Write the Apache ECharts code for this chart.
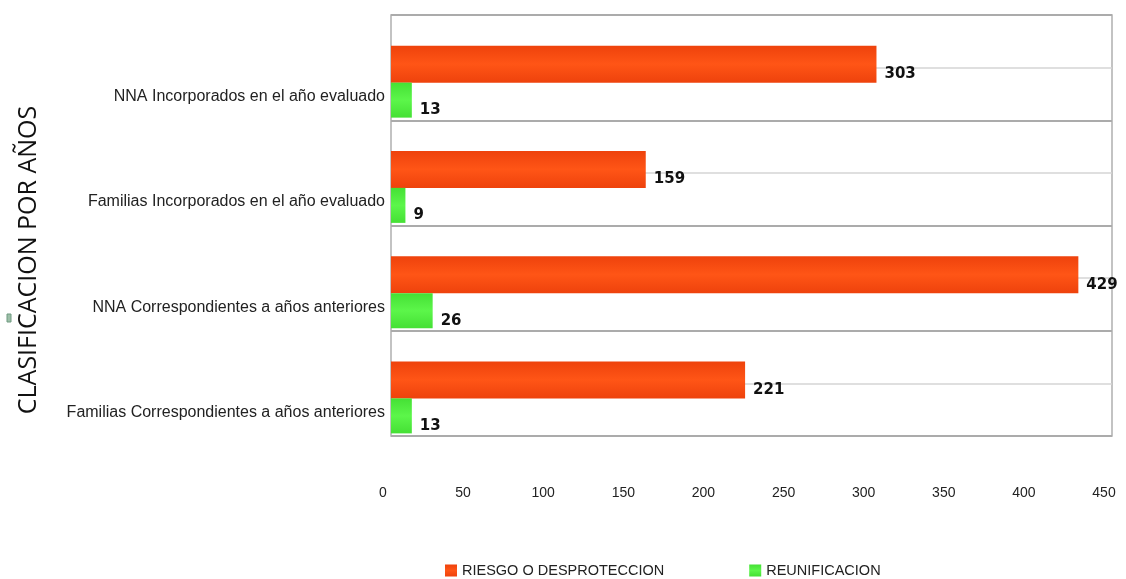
<!DOCTYPE html>
<html>
<head>
<meta charset="utf-8">
<script src="https://cdn.jsdelivr.net/npm/echarts@6/dist/echarts.min.js"></script>
<style>
  html, body { margin: 0; padding: 0; background: #fff; }
  #chart { width: 1126px; height: 579px; }
</style>
</head>
<body>
<div id="chart"></div>
<script>
var categories = [
  "NNA Incorporados en el año evaluado",
  "Familias Incorporados en el año evaluado",
  "NNA Correspondientes a años anteriores",
  "Familias Correspondientes a años anteriores"
];
var riesgo = [303, 159, 429, 221];
var reunificacion = [13, 9, 26, 13];
var xTicks = { min: 0, max: 450, interval: 50 };

var myChart = echarts.init(document.getElementById("chart"));

function barGrad(c1, c2) {
  return new echarts.graphic.LinearGradient(0, 0, 0, 1, [
    { offset: 0, color: c1 },
    { offset: 0.5, color: c2 },
    { offset: 1, color: c1 }
  ]);
}

var labelStyle = {
  show: true,
  position: "right",
  offset: [3, 10],
  color: "#111",
  fontFamily: "DejaVu Sans",
  fontWeight: "bold",
  fontSize: 15
};

var hiddenValueAxis = function (grid) {
  return {
    gridIndex: grid, type: "value",
    min: xTicks.min, max: xTicks.max, interval: xTicks.interval,
    axisLine: { show: false }, axisTick: { show: false },
    axisLabel: { show: false }, splitLine: { show: false }
  };
};

myChart.setOption({
  animation: false,
  grid: [
    // bars
    { left: 391, right: 14, top: 29, bottom: 129 },
    // back wall + gridlines
    {
      left: 391, right: 14, top: 15, bottom: 143,
      show: true, borderColor: "#b0b0b0", borderWidth: 1.5, backgroundColor: "transparent"
    },
    // category labels (sit a bit lower than the bars)
    { left: 391, right: 14, top: 44, bottom: 114 }
  ],
  legend: {
    top: 558,
    left: 440,
    icon: "rect",
    itemWidth: 12,
    itemHeight: 12,
    itemGap: 85,
    textStyle: { color: "#222", fontSize: 14.5, fontFamily: "Liberation Sans" },
    data: ["RIESGO O DESPROTECCION", "REUNIFICACION"]
  },
  graphic: [
    {
      type: "text",
      x: 29,
      y: 260,
      rotation: Math.PI / 2,
      style: {
        text: "CLASIFICACION POR AÑOS",
        fill: "#111",
        font: "25px 'Open Sans'",
        textAlign: "center",
        textVerticalAlign: "middle"
      }
    },
    {
      type: "rect",
      shape: { x: 7, y: 314, width: 4, height: 8 },
      style: { fill: "#9dbfa8", stroke: "#6f9a80" }
    }
  ],
  xAxis: [
    hiddenValueAxis(0),
    {
      gridIndex: 1, type: "value",
      min: xTicks.min, max: xTicks.max, interval: xTicks.interval,
      axisLine: { show: false }, axisTick: { show: false },
      splitLine: { show: false },
      axisLabel: {
        margin: 50, color: "#222", fontSize: 14, fontFamily: "Liberation Sans",
        padding: [0, 16, 0, 0]
      }
    },
    hiddenValueAxis(2)
  ],
  yAxis: [
    {
      gridIndex: 0, type: "category", inverse: true, data: categories,
      axisLine: { show: false }, axisTick: { show: false },
      axisLabel: { show: false }, splitLine: { show: false }
    },
    {
      gridIndex: 1, type: "value", min: 0, max: 8, interval: 1,
      axisLine: { show: false }, axisTick: { show: false }, axisLabel: { show: false },
      splitLine: { lineStyle: { color: "#d4d4d4", width: 1.5 } }
    },
    {
      gridIndex: 1, type: "value", min: 0, max: 4, interval: 1, position: "right",
      axisLine: { show: false }, axisTick: { show: false }, axisLabel: { show: false },
      splitLine: { lineStyle: { color: "#ababab", width: 2 } }
    },
    {
      gridIndex: 2, type: "category", inverse: true, data: categories,
      axisLine: { show: false }, axisTick: { show: false },
      splitLine: { show: false },
      axisLabel: { margin: 6, color: "#222", fontSize: 16, fontFamily: "Liberation Sans" }
    }
  ],
  series: [
    {
      name: "RIESGO O DESPROTECCION",
      type: "bar",
      xAxisIndex: 0, yAxisIndex: 0,
      data: riesgo,
      barWidth: 37,
      barGap: "0%",
      color: "#ff4a10",
      itemStyle: { color: barGrad("#ee420c", "#ff5516") },
      label: labelStyle,
      z: 5
    },
    {
      name: "REUNIFICACION",
      type: "bar",
      xAxisIndex: 0, yAxisIndex: 0,
      data: reunificacion,
      barWidth: 35,
      barGap: "0%",
      color: "#52ee40",
      itemStyle: { color: barGrad("#45e035", "#5cf64a") },
      label: labelStyle,
      z: 5
    }
  ]
});
</script>
</body>
</html>
